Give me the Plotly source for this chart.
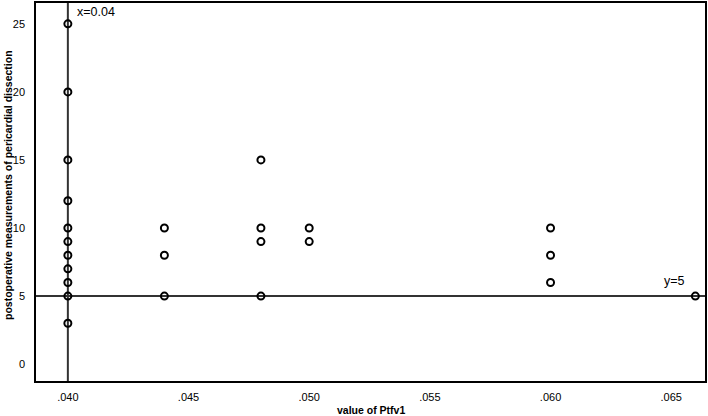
import plotly.graph_objects as go

# Data
ptfv1 = [0.040]*11 + [0.044]*3 + [0.048]*4 + [0.050]*2 + [0.060]*3 + [0.066]
dissection = [25, 20, 15, 12, 10, 9, 8, 7, 6, 5, 3,
              10, 8, 5,
              15, 10, 9, 5,
              10, 9,
              10, 8, 6,
              5]

x_ref = 0.04
y_ref = 5

x_ticks = [0.040, 0.045, 0.050, 0.055, 0.060, 0.065]
x_tick_labels = [".040", ".045", ".050", ".055", ".060", ".065"]
y_ticks = [0, 5, 10, 15, 20, 25]

FONT = "Liberation Sans, Arial, sans-serif"

fig = go.Figure()

fig.add_trace(go.Scatter(
    x=ptfv1, y=dissection, mode="markers",
    marker=dict(symbol="circle-open", size=7, color="black",
                line=dict(width=2, color="#111")),
    showlegend=False, hoverinfo="x+y"))

fig.add_shape(type="line", xref="x", yref="paper", x0=x_ref, x1=x_ref, y0=0, y1=1,
              line=dict(color="#333", width=2), layer="below")
fig.add_shape(type="line", xref="paper", yref="y", x0=0, x1=1, y0=y_ref, y1=y_ref,
              line=dict(color="#333", width=2), layer="below")

fig.add_annotation(x=x_ref, y=1, xref="x", yref="paper", text="x=0.04",
                   showarrow=False, xanchor="left", yanchor="top", xshift=7, yshift=0,
                   font=dict(family=FONT, size=12.5, color="black"))
fig.add_annotation(x=0.066, y=y_ref, xref="x", yref="y", text="y=5",
                   showarrow=False, xanchor="right", yanchor="bottom", xshift=-8, yshift=6,
                   font=dict(family=FONT, size=12.5, color="black"))

fig.add_annotation(x=0, y=0.5, xref="paper", yref="paper",
                   text="<b>postoperative measurements of pericardial dissection</b>",
                   textangle=-90, showarrow=False, xanchor="center", yanchor="middle",
                   xshift=-28, yshift=7,
                   font=dict(family=FONT, size=10.5, color="black"))
fig.add_annotation(x=0.5, y=0, xref="paper", yref="paper",
                   text="<b>value of Ptfv1</b>", showarrow=False,
                   xanchor="center", yanchor="middle", yshift=-29,
                   font=dict(family=FONT, size=10.5, color="black"))

fig.update_layout(
    width=708, height=416,
    margin=dict(l=36, r=1, t=1, b=35),
    plot_bgcolor="white", paper_bgcolor="white",
    font=dict(family=FONT, size=11, color="black"),
    xaxis=dict(range=[0.03868, 0.0664], tickvals=x_ticks, ticktext=x_tick_labels,
               showgrid=False, zeroline=False, showline=True, mirror=True,
               linecolor="black", linewidth=1.5,
               ticks="outside", ticklen=5, tickcolor="rgba(0,0,0,0)",
               tickfont=dict(family=FONT, size=11, color="black")),
    yaxis=dict(range=[-1.24, 26.53], tickvals=y_ticks,
               showgrid=False, zeroline=False, showline=True, mirror=True,
               linecolor="black", linewidth=1.5,
               ticks="outside", ticklen=7, tickcolor="rgba(0,0,0,0)",
               tickfont=dict(family=FONT, size=11, color="black")),
)

fig.write_html("out.html")
